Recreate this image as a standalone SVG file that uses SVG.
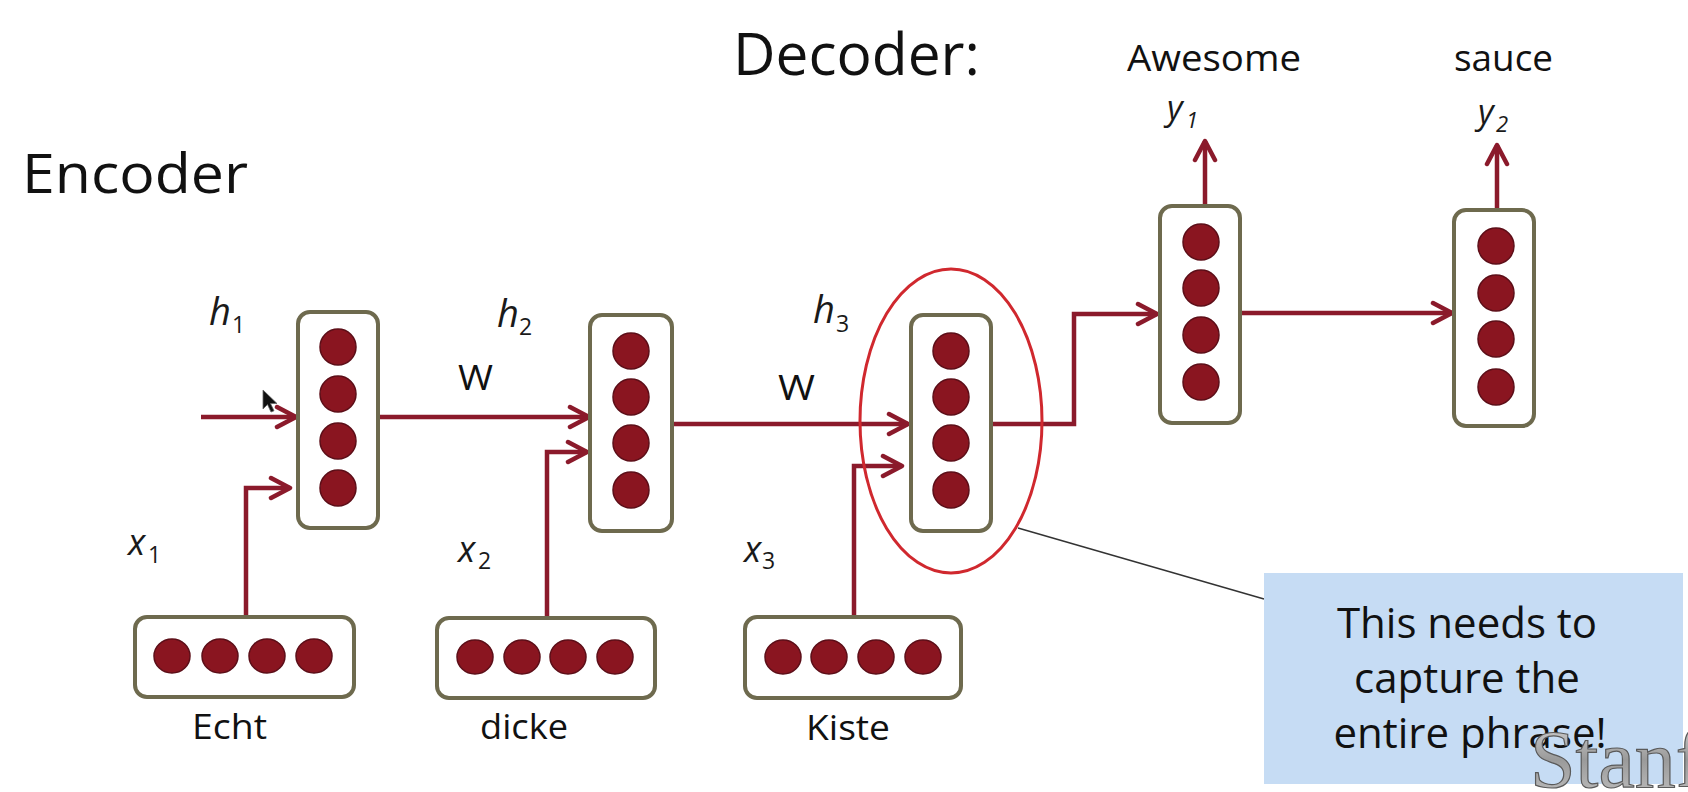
<svg xmlns="http://www.w3.org/2000/svg" width="1688" height="792" viewBox="0 0 1688 792">
<style>
.box{fill:#fff;stroke:#6e6a4e;stroke-width:4}
.dot{fill:#8a1520;stroke:#5c0e18;stroke-width:1.5}
.con{fill:none;stroke:#8b1a2b;stroke-width:4.5;marker-end:url(#arr)}
.t{font-family:"Open Sans","Liberation Sans",sans-serif;fill:#111}
.it{font-family:"Open Sans","Liberation Sans",sans-serif;font-style:italic;fill:#1a1a1a}
.sub{font-style:normal;font-size:23px}
.isub{font-size:22px}
</style>
<defs>
<marker id="arr" markerUnits="userSpaceOnUse" viewBox="0 0 26 26" markerWidth="26" markerHeight="26" refX="22" refY="13" orient="auto">
<path d="M3,3 L22,13 L3,23" fill="none" stroke="#8b1a2b" stroke-width="4.5" stroke-linejoin="round" stroke-linecap="round"/>
</marker>
<linearGradient id="metal" x1="0" y1="0" x2="0" y2="1">
<stop offset="0" stop-color="#dcdcdc"/>
<stop offset="0.5" stop-color="#9a9a9a"/>
<stop offset="1" stop-color="#c4c4c4"/>
</linearGradient>
</defs>
<rect width="1688" height="792" fill="#fff"/>

<text class="t" x="22" y="193" font-size="55" textLength="226" lengthAdjust="spacingAndGlyphs">Encoder</text>
<text class="t" x="733" y="75" font-size="59" textLength="247" lengthAdjust="spacingAndGlyphs">Decoder:</text>

<g id="connectors">
<path class="con" d="M201,417 H296"/>
<path class="con" d="M246,617 V488 H290"/>
<path class="con" d="M378,417 H589"/>
<path class="con" d="M547,618 V452 H587"/>
<path class="con" d="M672,424 H908"/>
<path class="con" d="M854,617 V466 H902"/>
<path class="con" d="M990,424 H1074 V314 H1157"/>
<path class="con" d="M1240,313 H1452"/>
<path class="con" d="M1205,206 V141"/>
<path class="con" d="M1497,210 V145"/>
</g>

<g id="h1">
<rect class="box" x="298" y="312" width="80" height="216" rx="12"/>
<circle class="dot" cx="338" cy="347" r="18"/><circle class="dot" cx="338" cy="394" r="18"/><circle class="dot" cx="338" cy="441" r="18"/><circle class="dot" cx="338" cy="488" r="18"/>
<text class="it" x="209" y="325" font-size="38">h<tspan class="sub" x="232" y="333">1</tspan></text>
</g>
<g id="h2">
<rect class="box" x="590" y="315" width="82" height="216" rx="12"/>
<circle class="dot" cx="631" cy="351" r="18"/><circle class="dot" cx="631" cy="397" r="18"/><circle class="dot" cx="631" cy="443" r="18"/><circle class="dot" cx="631" cy="490" r="18"/>
<text class="it" x="497" y="327" font-size="38">h<tspan class="sub" x="519" y="335">2</tspan></text>
</g>
<g id="h3">
<rect class="box" x="911" y="315" width="80" height="216" rx="12"/>
<circle class="dot" cx="951" cy="351" r="18"/><circle class="dot" cx="951" cy="397" r="18"/><circle class="dot" cx="951" cy="443" r="18"/><circle class="dot" cx="951" cy="490" r="18"/>
<text class="it" x="813" y="323" font-size="38">h<tspan class="sub" x="836" y="332">3</tspan></text>
</g>
<g id="d1">
<rect class="box" x="1160" y="206" width="80" height="217" rx="12"/>
<circle class="dot" cx="1201" cy="242" r="18"/><circle class="dot" cx="1201" cy="288" r="18"/><circle class="dot" cx="1201" cy="335" r="18"/><circle class="dot" cx="1201" cy="382" r="18"/>
<text class="it" x="1167" y="120" font-size="34">y<tspan class="isub" x="1186" y="128">1</tspan></text>
<text class="t" x="1127" y="71" font-size="36" textLength="174" lengthAdjust="spacingAndGlyphs">Awesome</text>
</g>
<g id="d2">
<rect class="box" x="1454" y="210" width="80" height="216" rx="12"/>
<circle class="dot" cx="1496" cy="246" r="18"/><circle class="dot" cx="1496" cy="293" r="18"/><circle class="dot" cx="1496" cy="339" r="18"/><circle class="dot" cx="1496" cy="387" r="18"/>
<text class="it" x="1478" y="124" font-size="34">y<tspan class="isub" x="1496" y="132">2</tspan></text>
<text class="t" x="1454" y="71" font-size="36" textLength="99" lengthAdjust="spacingAndGlyphs">sauce</text>
</g>
<g id="x1">
<rect class="box" x="135" y="617" width="219" height="80" rx="12"/>
<ellipse class="dot" cx="172" cy="656" rx="18" ry="17"/><ellipse class="dot" cx="220" cy="656" rx="18" ry="17"/><ellipse class="dot" cx="267" cy="656" rx="18" ry="17"/><ellipse class="dot" cx="314" cy="656" rx="18" ry="17"/>
<text class="t" x="192" y="739" font-size="35" textLength="75" lengthAdjust="spacingAndGlyphs">Echt</text>
<text class="it" x="128" y="555" font-size="36">x<tspan class="sub" x="148" y="563">1</tspan></text>
</g>
<g id="x2">
<rect class="box" x="437" y="618" width="218" height="80" rx="12"/>
<ellipse class="dot" cx="475" cy="657" rx="18" ry="17"/><ellipse class="dot" cx="522" cy="657" rx="18" ry="17"/><ellipse class="dot" cx="568" cy="657" rx="18" ry="17"/><ellipse class="dot" cx="615" cy="657" rx="18" ry="17"/>
<text class="t" x="480" y="739" font-size="35" textLength="88" lengthAdjust="spacingAndGlyphs">dicke</text>
<text class="it" x="458" y="562" font-size="36">x<tspan class="sub" x="478" y="569">2</tspan></text>
</g>
<g id="x3">
<rect class="box" x="745" y="617" width="216" height="81" rx="12"/>
<ellipse class="dot" cx="783" cy="657" rx="18" ry="17"/><ellipse class="dot" cx="829" cy="657" rx="18" ry="17"/><ellipse class="dot" cx="876" cy="657" rx="18" ry="17"/><ellipse class="dot" cx="923" cy="657" rx="18" ry="17"/>
<text class="t" x="806" y="740" font-size="35" textLength="84" lengthAdjust="spacingAndGlyphs">Kiste</text>
<text class="it" x="744" y="562" font-size="36">x<tspan class="sub" x="762" y="569">3</tspan></text>
</g>
<g id="weights">
<text class="t" x="458" y="390" font-size="34" textLength="35" lengthAdjust="spacingAndGlyphs">W</text>
<text class="t" x="778" y="400" font-size="34" textLength="37" lengthAdjust="spacingAndGlyphs">W</text>
</g>

<g id="highlight">
<ellipse cx="951" cy="421" rx="91" ry="152" fill="none" stroke="#d0282e" stroke-width="3"/>
<line x1="1018" y1="528" x2="1264" y2="599" stroke="#333" stroke-width="1.5"/>
</g>
<g id="callout">
<rect x="1264" y="573" width="419" height="211" fill="#c6dcf4"/>
<text class="t" x="1467" y="638" font-size="42" text-anchor="middle">This needs to</text>
<text class="t" x="1467" y="693" font-size="42" text-anchor="middle">capture the</text>
<text class="t" x="1470" y="748" font-size="42" text-anchor="middle">entire phrase!</text>
</g>

<text x="1530" y="787" font-family="'Liberation Serif',serif" font-size="82" fill="url(#metal)" stroke="#5a5a5a" stroke-width="1.2">Stanf</text>

<path d="M263,390 L263,409 L267.5,404.5 L271,412 L274,410.8 L270.5,403.5 L277,403.5 Z" fill="#111" stroke="#666" stroke-width="0.8"/>
</svg>
